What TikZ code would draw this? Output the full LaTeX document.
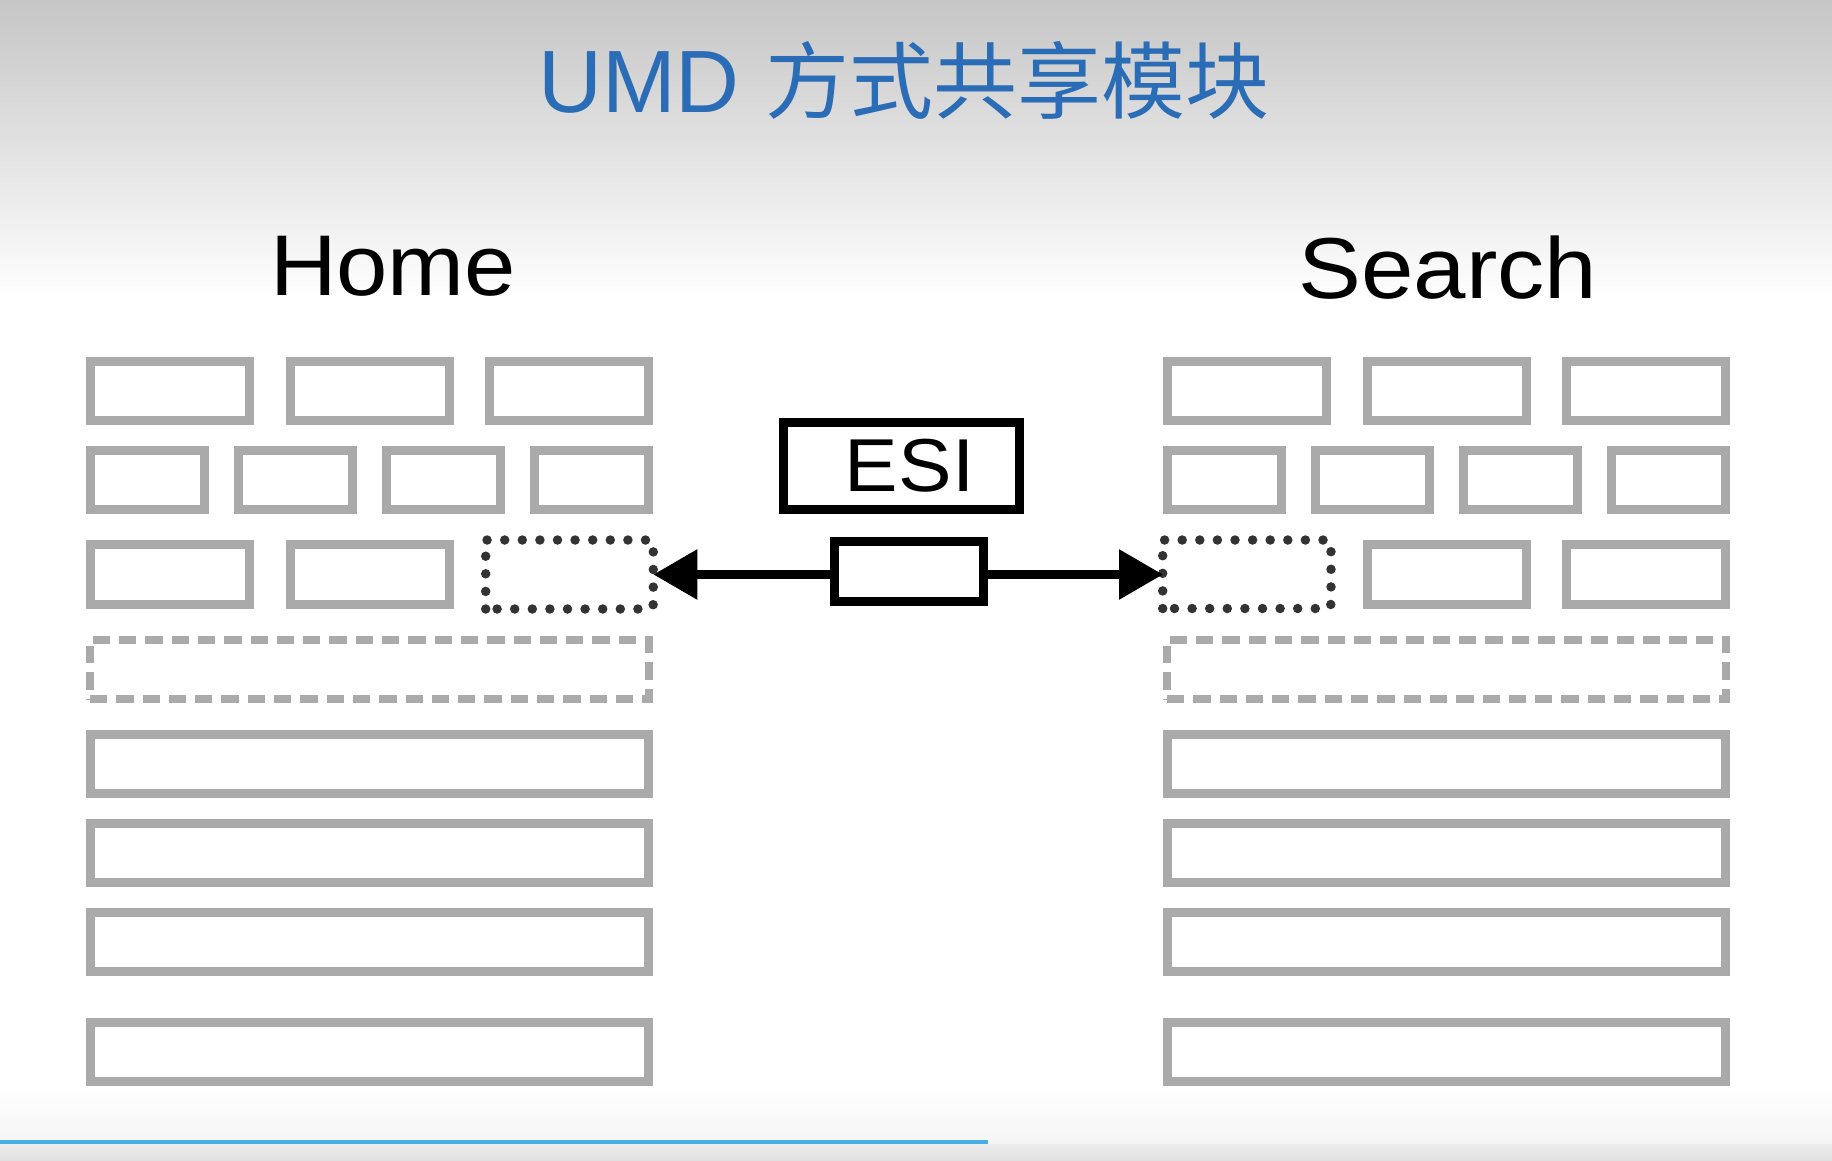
\documentclass[tikz,border=0pt]{standalone}
\usepackage{fontspec}
\usepackage{graphicx}
\setmainfont{Liberation Sans}
\newfontfamily\cjk{Noto Sans CJK SC}
\usetikzlibrary{arrows.meta}
\definecolor{boxgray}{HTML}{AAAAAA}
\definecolor{dotgray}{HTML}{333333}
\definecolor{titleblue}{HTML}{2B6CB6}
\definecolor{barblue}{HTML}{4AAEE6}
\definecolor{topgray}{HTML}{C6C6C6}
\definecolor{botgray}{HTML}{ECECEC}
\definecolor{fadegray}{HTML}{F5F5F5}
\begin{document}
\begin{tikzpicture}[x=1pt,y=-1pt,
  gbox/.style={draw=boxgray,line width=9pt,inner sep=0pt,outer sep=0pt,minimum height=59.3pt},
  wbox/.style={gbox,minimum width=159pt},
  nbox/.style={gbox,minimum width=114.6pt},
  lbox/.style={gbox,minimum width=558.6pt},
  dashbox/.style={draw=boxgray,line width=8.5pt,dash pattern=on 17.3pt off 9pt,inner sep=0pt,outer sep=0pt,minimum width=559.1pt,minimum height=59.1pt},
  slot/.style={inner sep=0pt,outer sep=0pt,minimum width=167.6pt,minimum height=69pt},
  dotline/.style={draw=dotgray,line width=9.5pt,line cap=round,dash pattern=on 0pt off 17.6pt},
  esibox/.style={draw=black,line width=9pt,inner sep=0pt,outer sep=0pt},
  link/.style={draw=black,line width=9pt,-{Triangle[length=44pt,width=48pt]}},
  lbl/.style={inner sep=0pt,anchor=base}
]
\useasboundingbox (0,0) rectangle (1832,1160);
% background
\fill[white] (0,0) rectangle (1832,1160);
\shade[top color=topgray,bottom color=white] (0,0) rectangle (1832,300);
\shade[top color=white,bottom color=fadegray] (0,1085) rectangle (1832,1140);
\fill[barblue] (0,1140) rectangle (988.3,1144);
\fill[fadegray] (988.3,1140) rectangle (1832,1144);
\shade[top color=botgray,bottom color=botgray!95!black] (0,1144) rectangle (1832,1160);

% title and headings
\node[inner sep=0pt,anchor=base west,text=titleblue] (title) at (538,112.7)
  {\fontsize{88.5}{100}\selectfont UMD\hspace{26pt}{\cjk\fontsize{84}{100}\selectfont 方式共享模块}};
\node[lbl] (home) at (393.1,295) {\fontsize{86.2}{100}\selectfont\scalebox{1.07}[1]{Home}};
\node[lbl] (search) at (1448,298) {\fontsize{86.5}{100}\selectfont\scalebox{1.09}[1]{Search}};

% page grids
\foreach \s/\ox in {L/0,R/1077}{
  \node[wbox] (\s11) at (169.7+\ox,390.85) {};
  \node[wbox] (\s12) at (369.5+\ox,390.85) {};
  \node[wbox] (\s13) at (569.3+\ox,390.85) {};
  \node[nbox] (\s21) at (147.5+\ox,479.85) {};
  \node[nbox] (\s22) at (295.5+\ox,479.85) {};
  \node[nbox] (\s23) at (443.5+\ox,479.85) {};
  \node[nbox] (\s24) at (591.5+\ox,479.85) {};
  \node[dashbox] (\s4) at (369.5+\ox,669.5) {};
  \node[lbox] (\s5) at (369.5+\ox,764.15) {};
  \node[lbox] (\s6) at (369.5+\ox,853) {};
  \node[lbox] (\s7) at (369.5+\ox,941.85) {};
  \node[lbox] (\s8) at (369.5+\ox,1051.7) {};
}
\node[wbox] (L31) at (169.7,574.5) {};
\node[wbox] (L32) at (369.5,574.5) {};
\node[wbox] (R32) at (1446.5,574.5) {};
\node[wbox] (R33) at (1646.3,574.5) {};

% shared module slots (dotted)
\node[slot] (ldot) at (569.5,574.5) {};
\node[slot] (rdot) at (1246.85,574.5) {};
\draw[dotline] (485.7,609) -- (485.7,540) -- (643.3,540) .. controls (653.3,540) .. (653.3,550) -- (653.3,599) .. controls (653.3,609) .. (643.3,609) -- cycle;
\draw[dotline] (1162.7,608.5) -- (1162.7,540) -- (1321,540) .. controls (1331,540) .. (1331,550) -- (1331,598.5) .. controls (1331,608.5) .. (1321,608.5) -- cycle;

% ESI
\node[esibox,minimum width=235.7pt,minimum height=86.4pt] (esi) at (901.65,466)
  {\hspace*{16pt}\fontsize{75}{80}\selectfont\scalebox{1.07}[1]{ESI}};
\node[esibox,minimum width=149pt,minimum height=60pt] (esis) at (909.3,571) {};
\draw[link] (esis.west |- ldot.east) -- (ldot.east);
\draw[link] (esis.east |- rdot.west) -- (rdot.west);
\end{tikzpicture}
\end{document}
